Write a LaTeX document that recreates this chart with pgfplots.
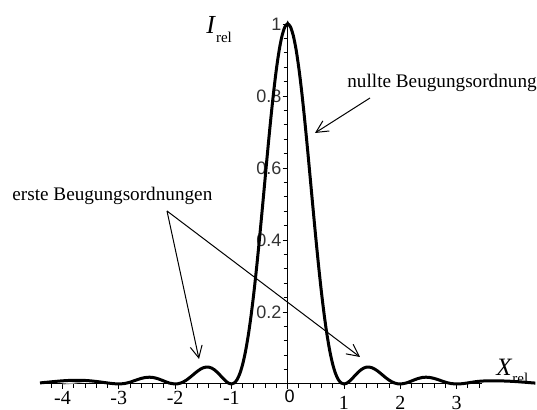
\documentclass[border=0pt]{standalone}
\usepackage{fontspec}
\setmainfont{Liberation Serif}
\newfontfamily\arial{Liberation Sans}
\usepackage{pgfplots}
\usepackage{pgfplotstable}
\pgfplotsset{compat=1.18}
\usetikzlibrary{arrows.meta}

\pgfplotstableread{
x y
-4.4 0.0030
-4.3 0.0045
-4.2 0.0060
-4.1 0.0075
-4.0 0.0088
-3.9 0.0097
-3.8 0.0102
-3.7 0.0103
-3.6 0.0098
-3.5 0.0087
-3.4 0.0070
-3.3 0.0050
-3.2 0.0028
-3.1 0.0010
-3.0 0.0002
-2.9 0.0013
-2.8 0.0051
-2.7 0.0105
-2.6 0.0156
-2.5 0.0186
-2.4 0.0183
-2.3 0.0144
-2.2 0.0083
-2.1 0.0025
-2.0 0.0000
-1.95 0.00065
-1.9 0.00268
-1.85 0.00610
-1.8 0.01080
-1.75 0.01654
-1.7 0.02295
-1.65 0.02955
-1.6 0.03580
-1.55 0.04114
-1.5 0.04503
-1.45 0.04701
-1.4 0.04676
-1.35 0.04414
-1.3 0.03924
-1.25 0.03242
-1.2 0.02431
-1.15 0.01579
-1.1 0.00800
-1.05 0.00225
-1.0 0.0
-0.95 0.00275
-0.9 0.01195
-0.85 0.02890
-0.8 0.05470
-0.75 0.09006
-0.7 0.13534
-0.65 0.19038
-0.6 0.25457
-0.55 0.32675
-0.5 0.40528
-0.45 0.48811
-0.4 0.57278
-0.35 0.65665
-0.3 0.73684
-0.25 0.81057
-0.2 0.87514
-0.15 0.92814
-0.1 0.96753
-0.05 0.99179
0 1
0.05 0.99179
0.1 0.96753
0.15 0.92814
0.2 0.87514
0.25 0.81057
0.3 0.73684
0.35 0.65665
0.4 0.57278
0.45 0.48811
0.5 0.40528
0.55 0.32675
0.6 0.25457
0.65 0.19038
0.7 0.13534
0.75 0.09006
0.8 0.05470
0.85 0.02890
0.9 0.01195
0.95 0.00275
1.0 0.0
1.05 0.00225
1.1 0.00800
1.15 0.01579
1.2 0.02431
1.25 0.03242
1.3 0.03924
1.35 0.04414
1.4 0.04676
1.45 0.04701
1.5 0.04503
1.55 0.04114
1.6 0.03580
1.65 0.02955
1.7 0.02295
1.75 0.01654
1.8 0.01080
1.85 0.00610
1.9 0.00268
1.95 0.00065
2.0 0.0
2.1 0.0025
2.2 0.0083
2.3 0.0144
2.4 0.0183
2.5 0.0186
2.6 0.0156
2.7 0.0105
2.8 0.0051
2.9 0.0013
3.0 0.0002
3.1 0.0008
3.2 0.0030
3.3 0.0055
3.4 0.0075
3.5 0.0085
3.6 0.0088
3.7 0.0088
3.8 0.0085
3.9 0.0080
4.0 0.0072
4.1 0.0062
4.2 0.0050
4.3 0.0037
4.4 0.0025
}\blackdata

\pgfplotstableread{
x y
-4.0 0.0
-3.9 0.00064
-3.8 0.00242
-3.7 0.00484
-3.6 0.00707
-3.5 0.00827
-3.4 0.00793
-3.3 0.00609
-3.2 0.00342
-3.1 0.00101
-3.0 0.0
-2.9 0.00115
-2.8 0.00447
-2.7 0.00910
-2.6 0.01356
-2.5 0.01621
-2.4 0.01591
-2.3 0.01254
-2.2 0.00723
-2.1 0.00219
-2.0 0.0
-1.9 0.00268
-1.8 0.01080
-1.7 0.02295
-1.6 0.03580
-1.5 0.04503
-1.4 0.04676
-1.3 0.03924
-1.2 0.02431
-1.1 0.00800
-1.0 0.0
-0.9 0.01195
-0.8 0.05470
-0.7 0.13534
-0.6 0.25457
-0.5 0.40528
-0.4 0.57278
-0.3 0.73684
-0.2 0.87514
-0.1 0.96753
0 1
0.1 0.96753
0.2 0.87514
0.3 0.73684
0.4 0.57278
0.5 0.40528
0.6 0.25457
0.7 0.13534
0.8 0.05470
0.9 0.01195
1.0 0.0
1.1 0.00800
1.2 0.02431
1.3 0.03924
1.4 0.04676
1.5 0.04503
1.6 0.03580
1.7 0.02295
1.8 0.01080
1.9 0.00268
2.0 0.0
2.1 0.00219
2.2 0.00723
2.3 0.01254
2.4 0.01591
2.5 0.01621
2.6 0.01356
2.7 0.00910
2.8 0.00447
2.9 0.00115
3.0 0.0
3.1 0.00101
3.2 0.00342
3.3 0.00609
3.4 0.00793
3.5 0.00827
}\graydata

\begin{document}
\begin{tikzpicture}
\useasboundingbox (-20pt,-13pt) rectangle (248.5pt,192pt);
\begin{axis}[
  at={(0,0)}, anchor=south west,
  scale only axis, width=247.7pt, height=181.8pt,
  xmin=-4.4, xmax=4.4, ymin=0, ymax=1.01,
  axis lines=middle,
  axis line style={line width=0.5pt},
  x axis line style={draw=none},
  hide obscured x ticks=false,
  clip=false,
  xtick={-4,-3,-2,-1,0,1,2,3},
  xticklabels={-4,-3,-2,-1,{\raisebox{1.3pt}{\hspace*{2pt}\arial\fontsize{9}{10}\selectfont 0}},\raisebox{-2.6pt}{1},\raisebox{-2.6pt}{2},\raisebox{-2.6pt}{3}},
  minor xtick={-4.2,-3.8,-3.6,-3.4,-3.2,-2.8,-2.6,-2.4,-2.2,-1.8,-1.6,-1.4,-1.2,-0.8,-0.6,-0.4,-0.2,0.2,0.4,0.6,0.8,1.2,1.4,1.6,1.8,2.2,2.4,2.6,2.8,3.2,3.4},
  ytick={0.2,0.4,0.6,0.8,1},
  yticklabels={0.2,0.4,0.6,0.8,1},
  minor ytick={0.04,0.08,0.12,0.16,0.24,0.28,0.32,0.36,0.44,0.48,0.52,0.56,0.64,0.68,0.72,0.76,0.84,0.88,0.92,0.96},
  tick align=outside,
  major tick length=2.5pt, minor tick length=2pt,
  tick style={black, line width=0.45pt},
  xticklabel style={anchor=base, yshift=-7.9pt, inner sep=0pt, font=\fontsize{10}{12}\selectfont},
  yticklabel style={anchor=east, inner sep=0pt, xshift=-0.5pt, font=\arial\fontsize{9}{10}\selectfont, text=black!80},
  /pgf/number format/assume math mode=true,
]
\draw[line width=0.5pt] (axis cs:-4.4,0) -- (axis cs:3.45,0);
\addplot[smooth, gray!70, line width=0.6pt] table[x=x,y=y] {\graydata};
\addplot[smooth, black, line width=1.5pt] table[x=x,y=y] {\blackdata};
\end{axis}
% annotations (1px = 0.5pt; origin at pixel (40,384))
\node[anchor=base west, inner sep=0pt, font=\fontsize{9.6}{11}\selectfont] at (153.5pt,148pt) {nullte Beugungsordnung};
\draw[line width=0.5pt, -{Straight Barb[length=6pt,width=6pt]}] (165pt,143pt) -- (137.5pt,125.5pt);
\node[anchor=base west, inner sep=0pt, font=\fontsize{9.6}{11}\selectfont] at (-14pt,91.5pt) {erste Beugungsordnungen};
\draw[line width=0.5pt, -{Straight Barb[length=6pt,width=6pt]}] (63.5pt,86.5pt) -- (79.5pt,12.5pt);
\draw[line width=0.5pt, -{Straight Barb[length=6pt,width=6pt]}] (63.5pt,86.5pt) -- (160pt,13.5pt);
\node[anchor=base west, inner sep=0pt] at (83pt,175pt) {\fontsize{13}{15}\selectfont\textit{I}\raisebox{-4.5pt}{\fontsize{7.5}{9}\selectfont rel}};
\node[anchor=base west, inner sep=0pt] at (228pt,4pt) {\fontsize{12.5}{15}\selectfont\textit{X}\raisebox{-4pt}{\fontsize{7.5}{9}\selectfont rel}};
\end{tikzpicture}
\end{document}
